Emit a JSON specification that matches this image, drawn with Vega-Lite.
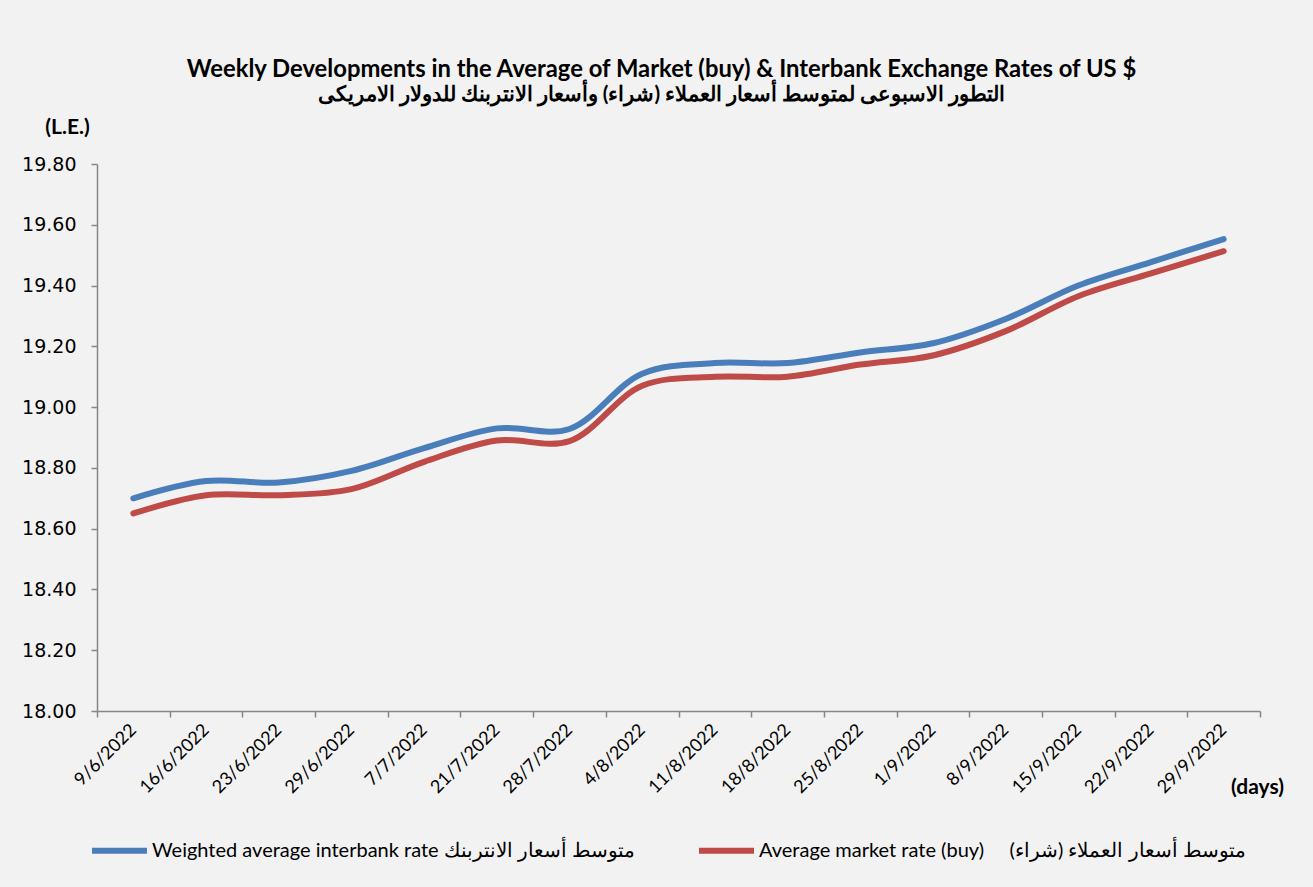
{
  "$schema": "https://vega.github.io/schema/vega-lite/v6.json",
  "width": 1163,
  "height": 547,
  "autosize": {"type": "none"},
  "padding": {"left": 97, "top": 164, "right": 53, "bottom": 176},
  "background": "#f2f2f2",
  "title": {
    "text": "Weekly Developments in the Average of Market (buy) & Interbank Exchange Rates of US $",
    "subtitle": "التطور الاسبوعى لمتوسط أسعار العملاء (شراء) وأسعار الانتربنك للدولار الامريكى",
    "anchor": "middle",
    "frame": "group",
    "dx": -17,
    "offset": 10,
    "font": "Lato",
    "fontSize": 23.8,
    "fontWeight": "bold",
    "color": "#000000",
    "subtitleFont": "Lato",
    "subtitleFontSize": 20.6,
    "subtitleFontWeight": "bold",
    "subtitleColor": "#000000",
    "subtitlePadding": 4
  },
  "data": {
    "values": [
      {"date": "9/6/2022", "series": "Weighted average interbank rate متوسط أسعار الانتربنك", "value": 18.70},
      {"date": "16/6/2022", "series": "Weighted average interbank rate متوسط أسعار الانتربنك", "value": 18.757},
      {"date": "23/6/2022", "series": "Weighted average interbank rate متوسط أسعار الانتربنك", "value": 18.752},
      {"date": "29/6/2022", "series": "Weighted average interbank rate متوسط أسعار الانتربنك", "value": 18.79},
      {"date": "7/7/2022", "series": "Weighted average interbank rate متوسط أسعار الانتربنك", "value": 18.865},
      {"date": "21/7/2022", "series": "Weighted average interbank rate متوسط أسعار الانتربنك", "value": 18.93},
      {"date": "28/7/2022", "series": "Weighted average interbank rate متوسط أسعار الانتربنك", "value": 18.928},
      {"date": "4/8/2022", "series": "Weighted average interbank rate متوسط أسعار الانتربنك", "value": 19.11},
      {"date": "11/8/2022", "series": "Weighted average interbank rate متوسط أسعار الانتربنك", "value": 19.145},
      {"date": "18/8/2022", "series": "Weighted average interbank rate متوسط أسعار الانتربنك", "value": 19.145},
      {"date": "25/8/2022", "series": "Weighted average interbank rate متوسط أسعار الانتربنك", "value": 19.18},
      {"date": "1/9/2022", "series": "Weighted average interbank rate متوسط أسعار الانتربنك", "value": 19.21},
      {"date": "8/9/2022", "series": "Weighted average interbank rate متوسط أسعار الانتربنك", "value": 19.29},
      {"date": "15/9/2022", "series": "Weighted average interbank rate متوسط أسعار الانتربنك", "value": 19.40},
      {"date": "22/9/2022", "series": "Weighted average interbank rate متوسط أسعار الانتربنك", "value": 19.477},
      {"date": "29/9/2022", "series": "Weighted average interbank rate متوسط أسعار الانتربنك", "value": 19.553},
      {"date": "9/6/2022", "series": "Average market rate (buy)\u00a0\u00a0\u00a0\u00a0\u00a0متوسط أسعار العملاء (شراء)\u200f", "value": 18.65},
      {"date": "16/6/2022", "series": "Average market rate (buy)\u00a0\u00a0\u00a0\u00a0\u00a0متوسط أسعار العملاء (شراء)\u200f", "value": 18.71},
      {"date": "23/6/2022", "series": "Average market rate (buy)\u00a0\u00a0\u00a0\u00a0\u00a0متوسط أسعار العملاء (شراء)\u200f", "value": 18.71},
      {"date": "29/6/2022", "series": "Average market rate (buy)\u00a0\u00a0\u00a0\u00a0\u00a0متوسط أسعار العملاء (شراء)\u200f", "value": 18.73},
      {"date": "7/7/2022", "series": "Average market rate (buy)\u00a0\u00a0\u00a0\u00a0\u00a0متوسط أسعار العملاء (شراء)\u200f", "value": 18.82},
      {"date": "21/7/2022", "series": "Average market rate (buy)\u00a0\u00a0\u00a0\u00a0\u00a0متوسط أسعار العملاء (شراء)\u200f", "value": 18.89},
      {"date": "28/7/2022", "series": "Average market rate (buy)\u00a0\u00a0\u00a0\u00a0\u00a0متوسط أسعار العملاء (شراء)\u200f", "value": 18.888},
      {"date": "4/8/2022", "series": "Average market rate (buy)\u00a0\u00a0\u00a0\u00a0\u00a0متوسط أسعار العملاء (شراء)\u200f", "value": 19.07},
      {"date": "11/8/2022", "series": "Average market rate (buy)\u00a0\u00a0\u00a0\u00a0\u00a0متوسط أسعار العملاء (شراء)\u200f", "value": 19.10},
      {"date": "18/8/2022", "series": "Average market rate (buy)\u00a0\u00a0\u00a0\u00a0\u00a0متوسط أسعار العملاء (شراء)\u200f", "value": 19.10},
      {"date": "25/8/2022", "series": "Average market rate (buy)\u00a0\u00a0\u00a0\u00a0\u00a0متوسط أسعار العملاء (شراء)\u200f", "value": 19.14},
      {"date": "1/9/2022", "series": "Average market rate (buy)\u00a0\u00a0\u00a0\u00a0\u00a0متوسط أسعار العملاء (شراء)\u200f", "value": 19.17},
      {"date": "8/9/2022", "series": "Average market rate (buy)\u00a0\u00a0\u00a0\u00a0\u00a0متوسط أسعار العملاء (شراء)\u200f", "value": 19.25},
      {"date": "15/9/2022", "series": "Average market rate (buy)\u00a0\u00a0\u00a0\u00a0\u00a0متوسط أسعار العملاء (شراء)\u200f", "value": 19.365},
      {"date": "22/9/2022", "series": "Average market rate (buy)\u00a0\u00a0\u00a0\u00a0\u00a0متوسط أسعار العملاء (شراء)\u200f", "value": 19.44},
      {"date": "29/9/2022", "series": "Average market rate (buy)\u00a0\u00a0\u00a0\u00a0\u00a0متوسط أسعار العملاء (شراء)\u200f", "value": 19.513}
    ]
  },
  "mark": {"type": "line", "strokeWidth": 6, "strokeCap": "round", "strokeJoin": "round", "interpolate": "catmull-rom"},
  "encoding": {
    "x": {
      "field": "date",
      "type": "ordinal",
      "sort": null,
      "bandPosition": 0.5,
      "scale": {"type": "band", "paddingInner": 0, "paddingOuter": 0},
      "axis": {
        "title": "(days)",
        "titleFont": "Lato",
        "titleFontSize": 21,
        "titleFontWeight": "bold",
        "titleColor": "#000000",
        "titleAngle": 0,
        "titleX": 1160,
        "titleY": 76,
        "titleAlign": "center",
        "titleBaseline": "middle",
        "labelAngle": -45,
        "labelAlign": "right",
        "labelBaseline": "middle",
        "labelPadding": 10,
        "labelFont": "Lato",
        "labelFontSize": 18,
        "labelColor": "#000000",
        "tickBand": "extent",
        "domainColor": "#868686",
        "domainWidth": 1.5,
        "tickColor": "#868686",
        "tickWidth": 1.5,
        "tickSize": 6,
        "grid": false
      }
    },
    "y": {
      "field": "value",
      "type": "quantitative",
      "scale": {"domain": [18, 19.8], "nice": false, "zero": false},
      "axis": {
        "title": "(L.E.)",
        "titleFont": "Lato",
        "titleFontSize": 21,
        "titleFontWeight": "bold",
        "titleColor": "#000000",
        "titleAngle": 0,
        "titleX": -30,
        "titleY": -37,
        "titleAlign": "center",
        "titleBaseline": "middle",
        "values": [18, 18.2, 18.4, 18.6, 18.8, 19, 19.2, 19.4, 19.6, 19.8],
        "format": ".2f",
        "labelFont": "DejaVu Sans",
        "labelFontSize": 19,
        "labelColor": "#000000",
        "labelPadding": 15,
        "domainColor": "#868686",
        "domainWidth": 1.5,
        "tickColor": "#868686",
        "tickWidth": 1.5,
        "tickSize": 6,
        "grid": false
      }
    },
    "color": {
      "field": "series",
      "type": "nominal",
      "scale": {
        "domain": ["Weighted average interbank rate متوسط أسعار الانتربنك", "Average market rate (buy)\u00a0\u00a0\u00a0\u00a0\u00a0متوسط أسعار العملاء (شراء)\u200f"],
        "range": ["#4a7ebb", "#be4b48"]
      },
      "legend": {
        "title": null,
        "orient": "none",
        "direction": "horizontal",
        "legendX": -8,
        "legendY": 656,
        "symbolType": "stroke",
        "symbolSize": 3025,
        "symbolStrokeWidth": 6,
        "labelFont": "Lato",
        "labelFontSize": 20,
        "labelColor": "#000000",
        "labelLimit": 0,
        "labelOffset": 2,
        "columnPadding": 52
      }
    }
  },
  "config": {"view": {"stroke": null}}
}
